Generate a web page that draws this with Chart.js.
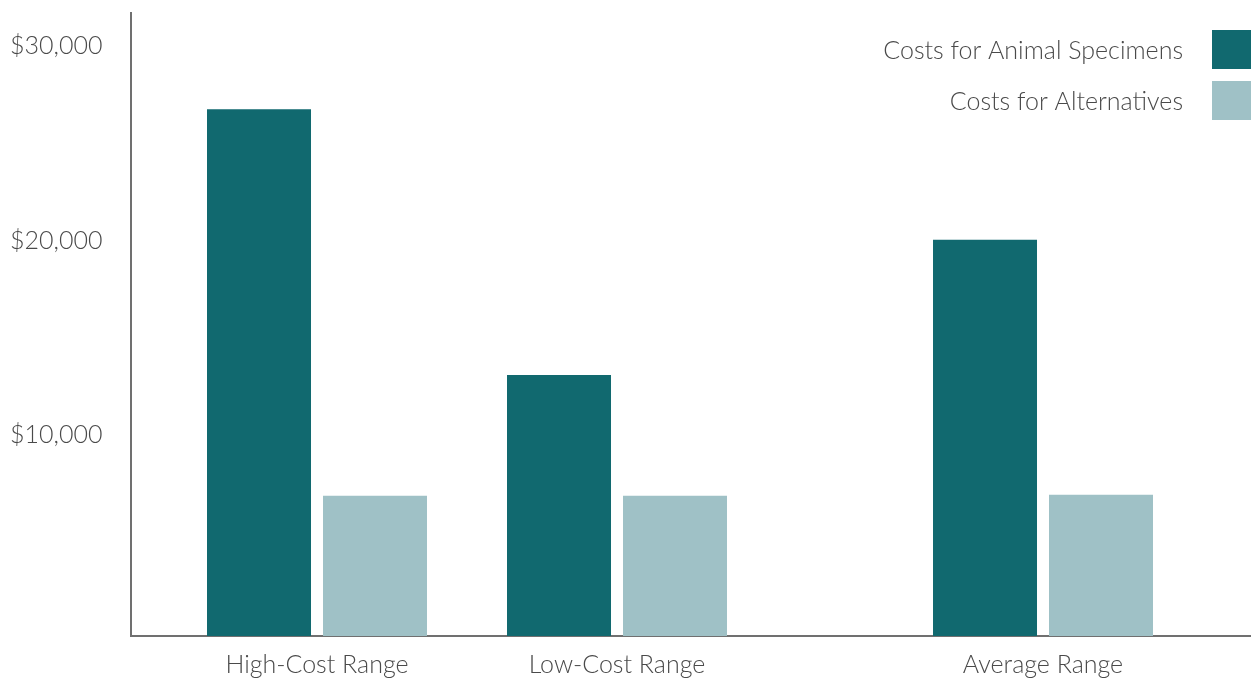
<!DOCTYPE html>
<html lang="en">
<head>
    <meta charset="UTF-8">
    <title>Costs: Animal Specimens vs Alternatives</title>
    <script src="https://cdn.jsdelivr.net/npm/chart.js"></script>
    <style>
        html, body { margin: 0; padding: 0; background: #fff; }
        #costChart { display: block; }
    </style>
</head>
<body>

<canvas id="costChart" width="1251" height="679"></canvas>

<script>
    // data
    const categories = ['High-Cost Range', 'Low-Cost Range', 'Average Range'];
    const catPositions = [1, 2, 3.42];          // groups are not evenly spaced
    const animalCosts = [27050, 13400, 20350];
    const altCosts = [7200, 7200, 7250];
    const yTicks = [10000, 20000, 30000];
    const seriesLabels = ['Costs for Animal Specimens', 'Costs for Alternatives'];

    const darkTeal = '#11696f';
    const lightTeal = '#9fc1c6';
    const textColor = '#4a4a4a';
    const axisColor = '#707070';
    const fontFamily = 'Lato, "Open Sans", sans-serif';

    // legend drawn in the top-right corner, text on the left of the box
    const cornerLegend = {
        id: 'cornerLegend',
        afterDraw(chart) {
            const ctx = chart.ctx;
            ctx.save();
            ctx.font = '300 25px ' + fontFamily;
            ctx.textAlign = 'right';
            ctx.textBaseline = 'middle';
            chart.data.datasets.forEach((ds, i) => {
                const top = 30 + i * 51;
                ctx.fillStyle = ds.backgroundColor;
                ctx.fillRect(1212, top, 40, 39);
                ctx.fillStyle = textColor;
                ctx.fillText(ds.label, 1183, top + 21);
            });
            ctx.restore();
        }
    };

    const ctx = document.getElementById('costChart').getContext('2d');
    const costChart = new Chart(ctx, {
        type: 'bar',
        data: {
            datasets: [{
                label: seriesLabels[0],
                data: catPositions.map((x, i) => ({ x: x, y: animalCosts[i] })),
                backgroundColor: darkTeal
            }, {
                label: seriesLabels[1],
                data: catPositions.map((x, i) => ({ x: x, y: altCosts[i] })),
                backgroundColor: lightTeal
            }]
        },
        options: {
            responsive: false,
            animation: false,
            layout: { padding: { left: 10, top: 13, right: 0, bottom: 0 } },
            categoryPercentage: 0.7733,
            barPercentage: 0.8966,
            plugins: {
                legend: { display: false },
                tooltip: { enabled: false }
            },
            scales: {
                x: {
                    type: 'linear',
                    min: 0.38,
                    max: 4.1133,
                    offset: false,
                    grid: { display: false, drawTicks: false },
                    border: { display: true, color: axisColor, width: 2 },
                    afterBuildTicks: (scale) => {
                        scale.ticks = catPositions.map(v => ({ value: v }));
                    },
                    afterFit: (scale) => {
                        scale.height = 43;
                        scale.paddingLeft = 0;
                        scale.paddingRight = 0;
                    },
                    ticks: {
                        padding: 14,
                        color: textColor,
                        font: { family: fontFamily, size: 25, weight: '300' },
                        maxRotation: 0,
                        autoSkip: false,
                        callback: (v) => categories[catPositions.indexOf(v)]
                    }
                },
                y: {
                    min: 0,
                    max: 32000,
                    grid: { display: false, drawTicks: false },
                    border: { display: true, color: axisColor, width: 2 },
                    afterBuildTicks: (scale) => {
                        scale.ticks = yTicks.map(v => ({ value: v }));
                    },
                    afterFit: (scale) => {
                        scale.width = 121;
                        scale.paddingTop = 0;
                        scale.paddingBottom = 0;
                    },
                    ticks: {
                        crossAlign: 'far',
                        labelOffset: -6,
                        color: textColor,
                        font: { family: fontFamily, size: 25, weight: '300' },
                        callback: (v) => '$' + v.toLocaleString('en-US')
                    }
                }
            }
        },
        plugins: [cornerLegend]
    });
</script>

</body>
</html>
